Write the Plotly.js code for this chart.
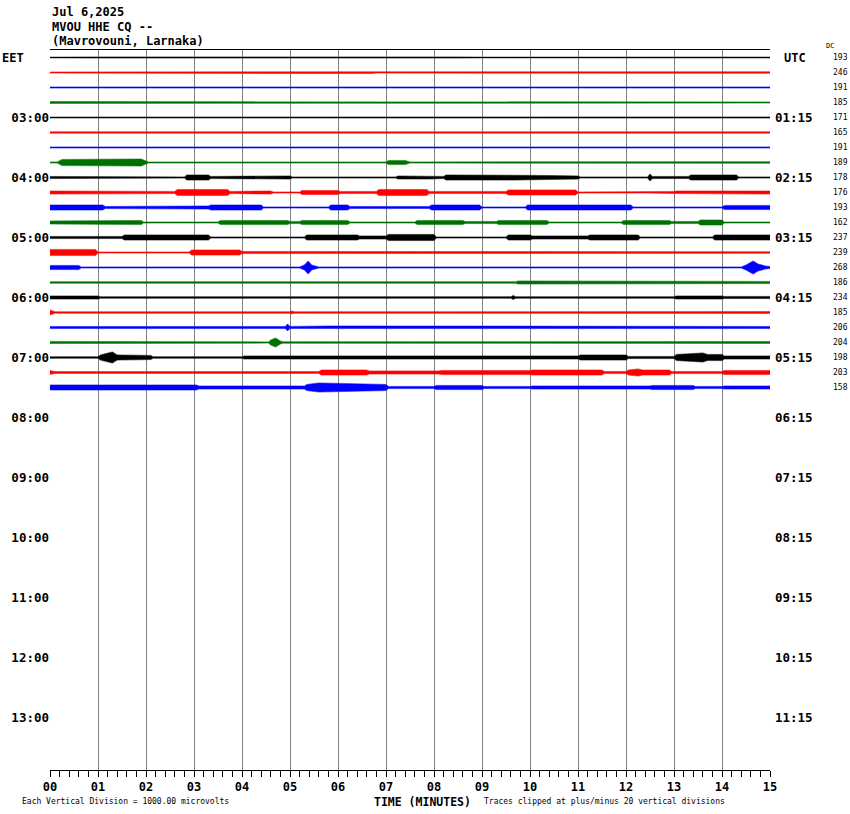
<!DOCTYPE html>
<html>
<head>
<meta charset="utf-8">
<script src="https://cdn.plot.ly/plotly-3.0.1.min.js"></script>
<style>body{margin:0;background:#fff}#chart{width:850px;height:814px}</style>
</head>
<body>
<div id="chart"></div>
<script>
// ---- data ----
const stationDate = "Jul 6,2025";
const stationCode = "MVOU HHE CQ --";
const stationName = "(Mavrovouni, Larnaka)";
const firstRowHourEET = 2;          // first trace line starts at 02:00 EET
const rowMinutes = 15;
const minuteTicks = [0,1,2,3,4,5,6,7,8,9,10,11,12,13,14,15];
const minuteLabels = ["00","01","02","03","04","05","06","07","08","09","10","11","12","13","14","15"];
const hourTicksEET = [3,4,5,6,7,8,9,10,11,12,13];
const hourLabelsEET = ["03:00","04:00","05:00","06:00","07:00","08:00","09:00","10:00","11:00","12:00","13:00"];
const hourLabelsUTC = ["01:15","02:15","03:15","04:15","05:15","06:15","07:15","08:15","09:15","10:15","11:15"];
const dcOffsets = [193,246,191,185,171,165,191,189,178,176,193,162,237,239,268,186,234,185,206,204,198,203,158];
const traceColors = ["#000000","#ff0000","#0000ff","#007000"];

// envelope of each 15-minute trace: [minute, half-amplitude] breakpoints
const traceEnvelopes = [
 [[0,0.8],[1,1],[8.5,1],[9,0.8],[15,0.9]],
 [[0,1],[4,1],[4.1,1.6],[5,1.6],[5.1,1],[6,1],[6.05,1.5],[6.7,1.5],[6.8,1],[11.7,1],[11.75,1.6],[12.3,1.6],[12.4,1],[15,1.2]],
 [[0,1],[15,1]],
 [[0,1.3],[0.6,1.3],[0.7,0.8],[15,1]],
 [[0,0.9],[15,1]],
 [[0,1.1],[15,1.1]],
 [[0,1],[15,1]],
 [[0,1],[0.15,1],[0.25,3.5],[1.9,4],[2.05,1],[7.0,1],[7.05,2.5],[7.4,2.5],[7.5,1],[15,1.2]],
 [[0,1.5],[0.7,1.5],[0.8,1],[1.0,1],[1.05,1.6],[2.0,1.6],[2.1,1],[2.8,1],[2.85,3],[3.3,3],[3.35,1.5],[3.75,1.5],[3.8,2],[5,2],[5.05,1],[7.2,1],[7.25,2],[7.9,2],[8.2,1.5],[8.25,3],[9.7,3],[10.3,2.5],[11,2],[11.05,1],[12.45,1],[12.5,4],[12.55,1.5],[13.3,1.5],[13.35,3],[14.3,3],[14.35,1],[15,1]],
 [[0,2],[0.3,2],[0.35,1.5],[2.6,1.5],[2.65,3.5],[3.7,3.5],[3.75,1.5],[4.2,1.5],[4.25,2],[4.6,2],[4.65,1],[5.2,1],[5.25,2.5],[6.0,2.5],[6.05,1.5],[6.8,1.5],[6.85,3.5],[7.85,3.5],[7.9,1.5],[9.5,1.5],[9.55,3],[10.95,3],[11,1],[12.5,1],[13,1.5],[13.05,2],[15,2]],
 [[0,3],[1.1,3],[1.15,1.5],[2.0,1.5],[2.05,2],[3.3,2],[3.35,3],[4.4,3],[4.45,1],[5.8,1],[5.85,3],[6.2,3],[6.25,1.5],[7.9,1.5],[7.95,3],[8.95,3],[9.0,1],[9.9,1],[9.95,3],[12.1,3],[12.15,1],[14,1],[14.05,2.5],[15,2.5]],
 [[0,2],[0.9,2],[0.95,2.5],[1.9,2.5],[1.95,1],[3.5,1],[3.55,2.5],[4.95,2.5],[5.0,1.5],[5.2,1.5],[5.25,2.5],[6.2,2.5],[6.25,1],[7.6,1],[7.65,2.5],[8.6,2.5],[8.65,1.5],[9.3,1.5],[9.35,2.5],[10.35,2.5],[10.4,1],[11.9,1],[11.95,2.5],[12.9,2.5],[12.95,1.5],[13.5,1.5],[13.55,3],[14,3],[14.05,1],[15,1]],
 [[0,1.5],[1.5,1.5],[1.55,3],[3.3,3],[3.35,1],[5.3,1],[5.35,3],[6.4,3],[6.45,2],[7.0,2],[7.05,3.5],[8.0,3.5],[8.05,1],[9.5,1],[9.55,3],[10,3],[10.05,2],[11.2,2],[11.25,3],[12.25,3],[12.3,1],[13.8,1],[13.85,3],[15,3]],
 [[0,3.5],[0.95,3.5],[1.0,1],[2.9,1],[2.95,3],[3.95,3],[4.0,1.5],[4.3,1.5],[4.35,1],[15,1.2]],
 [[0,2.5],[0.6,2.5],[0.65,1],[5.2,1],[5.3,3],[5.38,7],[5.45,3],[5.55,1.5],[5.6,1],[14.4,1],[14.5,3],[14.65,7],[14.75,4],[14.9,2],[15,1.5]],
 [[0,1.2],[9.7,1.2],[9.75,2],[11.2,2],[11.25,1.5],[15,1.5]],
 [[0,2],[1.0,2],[1.05,1.2],[9.6,1.2],[9.65,2.5],[9.7,1.2],[13,1.2],[13.05,2],[14,2],[14.05,1.5],[15,1.5]],
 [[0,3],[0.1,1.2],[5,1.2],[5.02,2],[5.1,1.2],[15,1.3]],
 [[0,1.5],[4.9,1.5],[4.95,4],[5.0,1.5],[5.8,2],[8,2],[8.05,1.5],[15,1.5]],
 [[0,1.5],[2.1,1.5],[2.15,1],[4.55,1],[4.6,3],[4.7,5],[4.8,2],[4.85,1.2],[15,1.3]],
 [[0,1.2],[1.0,1.2],[1.05,3],[1.3,6],[1.4,3],[2.1,2.5],[2.15,1.2],[4.0,1.2],[4.05,2],[5,2],[5.05,1.5],[8,1.5],[8.05,2],[9,2],[9.05,1.5],[10,1.5],[10.05,2],[11,2],[11.05,3],[12,3],[12.05,1.5],[13,1.5],[13.05,3.5],[13.6,5],[13.7,3.5],[14,3.5],[14.05,2],[15,2]],
 [[0,2.5],[0.1,1.3],[5.6,1.3],[5.65,3],[6.6,3],[6.65,2],[8.1,2],[8.15,2.5],[10,2.5],[10.05,3],[11.5,3],[11.55,1.5],[12,1.5],[12.05,3],[12.25,4],[12.35,3],[12.9,3],[12.95,1.5],[14,1.5],[14.05,2.5],[15,2.5]],
 [[0,3],[3.05,3],[3.1,2],[5.3,2],[5.35,3.5],[5.6,5],[7,3.5],[7.05,1.5],[8,1.5],[8.05,2.5],[9,2.5],[9.05,1.5],[10,1.5],[10.05,2],[12.5,2],[12.55,2.5],[13.4,2.5],[13.45,1.5],[14,1.5],[14.05,2],[15,2]]
];

// ---- build ----
const rowHours = rowMinutes/60;
const ampToHours = rowHours/15;   // envelope unit = 1/15 of the row spacing
const mono = "DejaVu Sans Mono, Liberation Mono, monospace";
// drawn half-width (thin trace line + envelope)
const drawnHalf = a => Math.max(a - 0.4, 0.25);

const traces = traceEnvelopes.map((env, i) => {
  const base = firstRowHourEET + i*rowHours;
  const xs = env.map(p=>p[0]);
  const up = env.map(p=>base - drawnHalf(p[1])*ampToHours);
  const lo = env.map(p=>base + drawnHalf(p[1])*ampToHours);
  return {
    type:'scatter', mode:'lines',
    x: xs.concat(xs.slice().reverse()),
    y: up.concat(lo.slice().reverse()),
    fill:'toself', fillcolor: traceColors[i%4],
    line:{color: traceColors[i%4], width:0.5},
    hoverinfo:'skip'
  };
});

const yTop = firstRowHourEET - rowHours/2;
const yBot = yTop + 12;
const px2paperX = px => (px-50)/720;
const px2paperY = py => (770-py)/720;

const ann = [];
[stationDate, stationCode, stationName].forEach((t,k)=>{
  ann.push({text:t, xref:'paper', yref:'paper', x:0, y:px2paperY(12+14.5*k), xanchor:'left', yanchor:'middle',
    showarrow:false, font:{family:mono, size:12, color:'#000', weight:'bold'}});
});
ann.push({text:'EET', xref:'paper', yref:'y', x:px2paperX(0), y:firstRowHourEET, xanchor:'left', yanchor:'middle',
  showarrow:false, font:{family:mono, size:12, color:'#000', weight:'bold'}});
ann.push({text:'UTC', xref:'paper', yref:'y', x:px2paperX(795), y:firstRowHourEET, xanchor:'center', yanchor:'middle',
  showarrow:false, font:{family:mono, size:12, color:'#000', weight:'bold'}});
hourTicksEET.forEach((h,k)=>{
  ann.push({text:hourLabelsUTC[k], xref:'paper', yref:'y', x:px2paperX(773), y:h, xanchor:'left', yanchor:'middle',
    showarrow:false, font:{family:mono, size:12.5, color:'#000', weight:'bold'}});
});
dcOffsets.forEach((v,i)=>{
  ann.push({text:String(v), xref:'paper', yref:'y', x:px2paperX(831), y:firstRowHourEET + i*rowHours, xanchor:'left', yanchor:'middle',
    showarrow:false, font:{family:mono, size:8, color:'#000'}});
});
ann.push({text:'DC', xref:'paper', yref:'paper', x:px2paperX(824), y:px2paperY(46), xanchor:'left', yanchor:'middle',
  showarrow:false, font:{family:mono, size:7, color:'#000'}});
ann.push({text:'Each Vertical Division = 1000.00 microvolts', xref:'paper', yref:'paper', x:px2paperX(20), y:px2paperY(801),
  xanchor:'left', yanchor:'middle', showarrow:false, font:{family:mono, size:8, color:'#000'}});
ann.push({text:'TIME (MINUTES)', xref:'paper', yref:'paper', x:px2paperX(422), y:px2paperY(802),
  xanchor:'center', yanchor:'middle', showarrow:false, font:{family:mono, size:11.5, color:'#000', weight:'bold'}});
ann.push({text:'Traces clipped at plus/minus 20 vertical divisions', xref:'paper', yref:'paper', x:px2paperX(482), y:px2paperY(801),
  xanchor:'left', yanchor:'middle', showarrow:false, font:{family:mono, size:8, color:'#000'}});

const layout = {
  width:850, height:814,
  margin:{l:50, r:80, t:50, b:44},
  paper_bgcolor:'#fff', plot_bgcolor:'#fff',
  showlegend:false,
  xaxis:{
    range:[0,15], tickmode:'array', tickvals:minuteTicks, ticktext:minuteLabels,
    ticks:'outside', ticklen:6, tickwidth:1, tickcolor:'#000',
    minor:{tick0:0, dtick:0.2, ticks:'outside', ticklen:6, tickwidth:1, tickcolor:'#000', showgrid:false},
    showgrid:true, gridcolor:'#808080', gridwidth:1,
    showline:true, linecolor:'#000', linewidth:1, mirror:true, zeroline:false,
    tickfont:{family:mono, size:12, color:'#000', weight:'bold'}, fixedrange:true
  },
  yaxis:{
    range:[yBot, yTop], tickmode:'array', tickvals:hourTicksEET, ticktext:hourLabelsEET,
    ticks:'', showgrid:false, zeroline:false, showline:false,
    tickfont:{family:mono, size:12.5, color:'#000', weight:'bold'}, fixedrange:true
  },
  annotations: ann
};

Plotly.newPlot('chart', traces, layout, {staticPlot:true, displayModeBar:false});
</script>
</body>
</html>
